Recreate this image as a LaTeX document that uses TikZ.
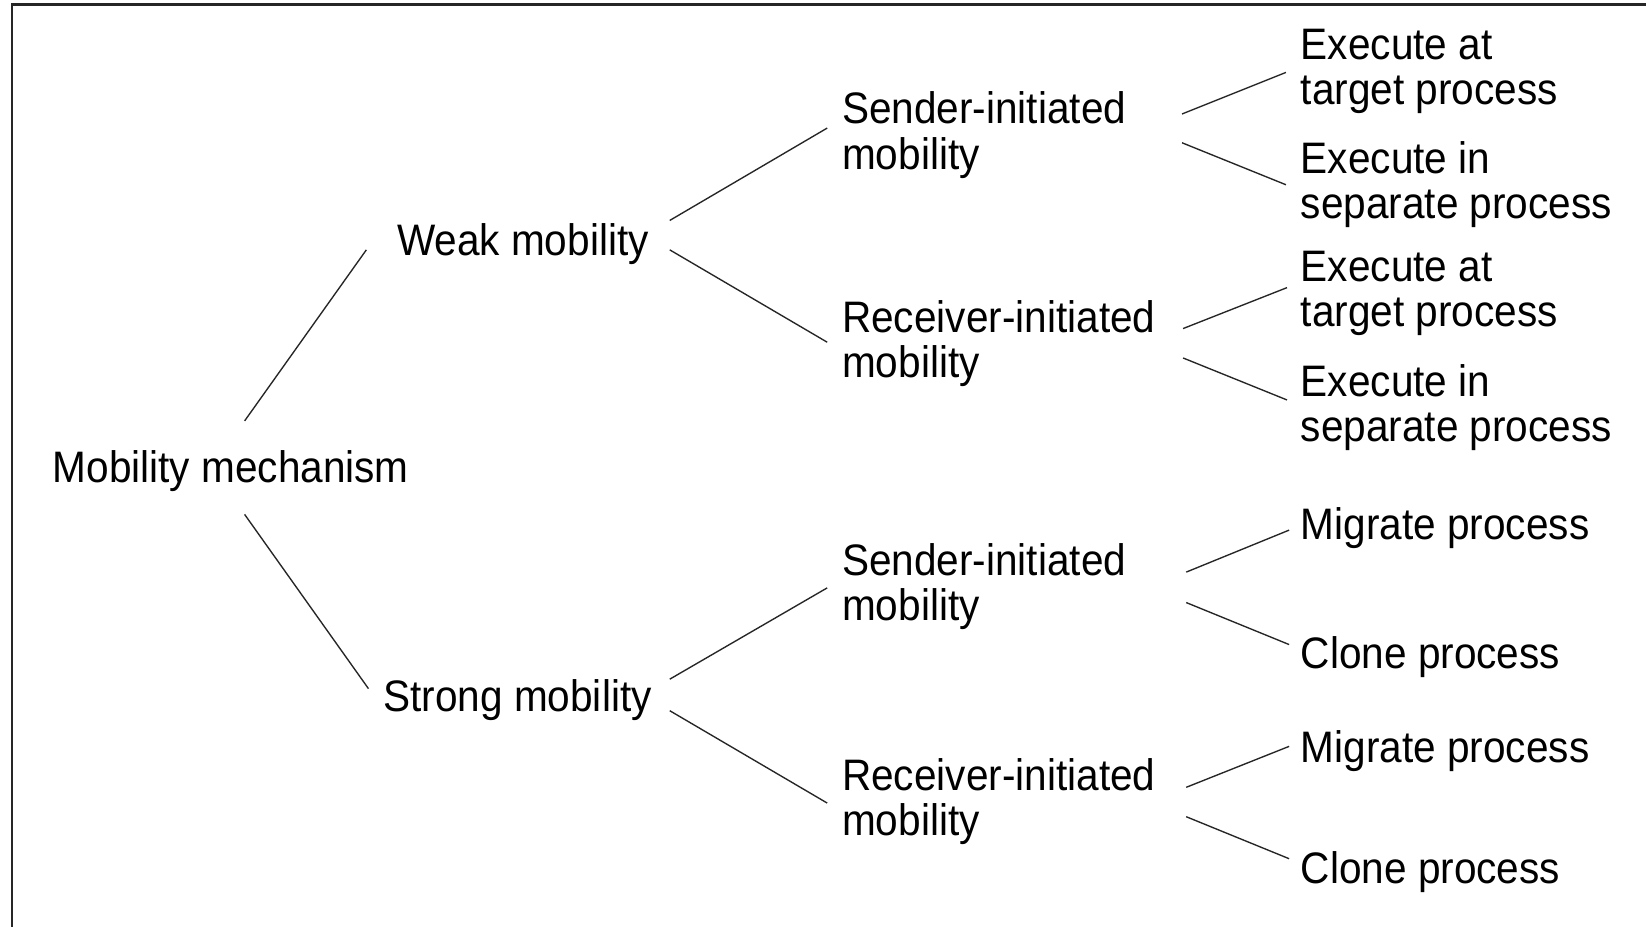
\documentclass[tikz,border=0pt]{standalone}
\usepackage{fontspec}
\setmainfont{Liberation Sans}[FakeStretch=0.92]
\usetikzlibrary{calc}
\begin{document}
\begin{tikzpicture}[x=1pt,y=-1pt,
  lbl/.style={inner sep=0pt, anchor=base west, align=left, font=\fontsize{42}{43}\selectfont},
  conn/.style={line width=1.3pt, black!85},
  frameline/.style={line width=2.6pt, black!85}]
\useasboundingbox (0,0) rectangle (1568,883);
\fill[white] (0,0) rectangle (1568,883);
\draw[frameline] (11.5,883) -- (11.5,4.5) -- (1568,4.5);

% nodes (base anchor = baseline of the last line)
\node[lbl] (mm) at (50,460) {Mobility mechanism};
\node[lbl] (wm) at (378,243) {Weak mobility};
\node[lbl] (sm) at (365,678) {Strong mobility};
\node[lbl] (s1) at (802,161) {Sender-initiated\\mobility};
\node[lbl] (r1) at (802,360) {Receiver-initiated\\mobility};
\node[lbl] (s2) at (802,591) {Sender-initiated\\mobility};
\node[lbl] (r2) at (802,796) {Receiver-initiated\\mobility};
\node[lbl] (e1) at (1239,100) {Execute at\\target process};
\node[lbl] (e2) at (1239,208) {Execute in\\separate process};
\node[lbl] (e3) at (1239,311) {Execute at\\target process};
\node[lbl] (e4) at (1239,421) {Execute in\\separate process};
\node[lbl] (m1) at (1239,514) {Migrate process};
\node[lbl] (c1) at (1239,637) {Clone process};
\node[lbl] (m2) at (1239,726) {Migrate process};
\node[lbl] (c2) at (1239,842) {Clone process};

% connectors
\draw[conn] ($(mm.base west)+(183,-59)$) -- ($(wm.base west)+(-29,-5)$);
\draw[conn] ($(mm.base west)+(183,30)$) -- ($(sm.base west)+(-14,-22)$);
\draw[conn] ($(wm.base west)+(260,-33)$) -- ($(s1.base west)+(-14,-39)$);
\draw[conn] ($(wm.base west)+(260,-5)$) -- ($(r1.base west)+(-14,-34)$);
\draw[conn] ($(sm.base west)+(273,-31)$) -- ($(s2.base west)+(-14,-31)$);
\draw[conn] ($(sm.base west)+(273,-1)$) -- ($(r2.base west)+(-14,-31)$);
\draw[conn] ($(s1.base west)+(324,-52.4)$) -- ($(e1.base west)+(-14,-31)$);
\draw[conn] ($(s1.base west)+(324,-25)$) -- ($(e2.base west)+(-14,-32)$);
\draw[conn] ($(r1.base west)+(325,-47)$) -- ($(e3.base west)+(-13,-37)$);
\draw[conn] ($(r1.base west)+(325,-19)$) -- ($(e4.base west)+(-13,-40)$);
\draw[conn] ($(s2.base west)+(328,-46)$) -- ($(m1.base west)+(-11,-9)$);
\draw[conn] ($(s2.base west)+(328,-17)$) -- ($(c1.base west)+(-11,-23)$);
\draw[conn] ($(r2.base west)+(328,-46)$) -- ($(m2.base west)+(-11,-15)$);
\draw[conn] ($(r2.base west)+(328,-18)$) -- ($(c2.base west)+(-11,-24)$);
\end{tikzpicture}
\end{document}
